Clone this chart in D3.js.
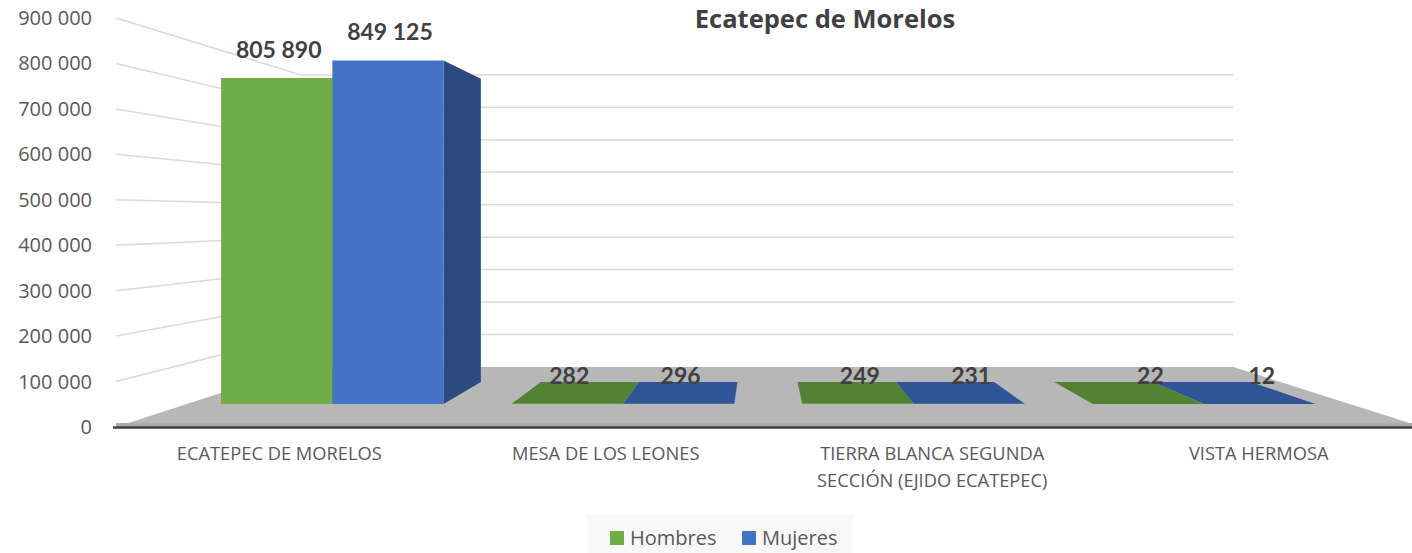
<!DOCTYPE html>
<html>
<head>
<meta charset="utf-8">
<script src="https://cdn.jsdelivr.net/npm/d3@7"></script>
<style>
    body { margin: 0; background: #fff; }
    text { font-family: "Open Sans", sans-serif; }
</style>
</head>
<body>
<div id="chart"></div>
<script>
const categories = ["ECATEPEC DE MORELOS", "MESA DE LOS LEONES", "TIERRA BLANCA SEGUNDA SECCIÓN (EJIDO ECATEPEC)", "VISTA HERMOSA"];
const categoryLines = [["ECATEPEC DE MORELOS"], ["MESA DE LOS LEONES"], ["TIERRA BLANCA SEGUNDA", "SECCIÓN (EJIDO ECATEPEC)"], ["VISTA HERMOSA"]];
const seriesNames = ["Hombres", "Mujeres"];
const hombres = [805890, 282, 249, 22];
const mujeres = [849125, 296, 231, 12];
const yMax = 900000;

const colors = {
    Hombres: { front: "#70ad47", top: "#548235", side: "#507e32" },
    Mujeres: { front: "#4472c4", top: "#2f5597", side: "#2c4a7e" }
};

const locale = d3.formatLocale({ decimal: ",", thousands: " ", grouping: [3], currency: ["", ""] });
const fmt = locale.format(",");

function drawChart() {
    const width = 1412, height = 553;
    const svg = d3.select("#chart")
        .append("svg")
        .attr("width", width)
        .attr("height", height);

    // front plane scales, then a simple perspective toward a vanishing point
    const x = d3.scaleBand()
        .domain(categories)
        .range([116, 1422])
        .paddingInner(0.234)
        .paddingOuter(0.117);

    const xs = d3.scaleBand()
        .domain(seriesNames)
        .range([0, x.bandwidth()]);

    const y = d3.scaleLinear()
        .domain([0, yMax])
        .range([427, 18]);

    const vp = [762, 217];
    const depth = { front: 1, barFront: 0.89, barBack: 0.786, wall: 0.714 };
    const proj = (px, py, s) => [vp[0] + s * (px - vp[0]), vp[1] + s * (py - vp[1])];
    const poly = pts => "M" + pts.map(p => p.join(",")).join("L") + "Z";

    const x0 = x.range()[0], x1 = x.range()[1];
    const ticks = y.ticks(9);

    // floor
    svg.append("path")
        .attr("d", poly([proj(x0, y(0), depth.front), proj(x1, y(0), depth.front),
                         proj(x1, y(0), depth.wall), proj(x0, y(0), depth.wall)]))
        .attr("fill", "#b7b7b7");
    svg.append("rect")
        .attr("x", x0).attr("y", y(0) - 4)
        .attr("width", width - x0).attr("height", 4)
        .attr("fill", "#acacac");

    // gridlines: side wall + back wall
    const grid = svg.append("g")
        .attr("stroke", "#d9d9d9")
        .attr("stroke-width", 1.5)
        .attr("fill", "none");
    ticks.filter(t => t > 0).forEach(t => {
        const a = proj(x0, y(t), depth.front);
        const b = proj(x0, y(t), depth.wall);
        const c = proj(x1, y(t), depth.wall);
        grid.append("path").attr("d", `M${a}L${b}L${c}`);
    });

    // bars
    const bars = [];
    categories.forEach((cat, i) => {
        [hombres[i], mujeres[i]].forEach((v, j) => {
            const name = seriesNames[j];
            const bx0 = x(cat) + xs(name);
            bars.push({ name, v, bx0, bx1: bx0 + xs.bandwidth(), yt: y(v), yb: y(0) });
        });
    });
    bars.sort((a, b) => Math.abs((b.bx0 + b.bx1) / 2 - vp[0]) - Math.abs((a.bx0 + a.bx1) / 2 - vp[0]));

    const gBars = svg.append("g");
    const F = depth.barFront, B = depth.barBack;
    bars.forEach(d => {
        const c = colors[d.name];
        if (d.bx1 < vp[0]) {
            gBars.append("path").attr("fill", c.side)
                .attr("d", poly([proj(d.bx1, d.yt, F), proj(d.bx1, d.yt, B), proj(d.bx1, d.yb, B), proj(d.bx1, d.yb, F)]));
        }
        if (d.bx0 > vp[0]) {
            gBars.append("path").attr("fill", c.side)
                .attr("d", poly([proj(d.bx0, d.yt, F), proj(d.bx0, d.yt, B), proj(d.bx0, d.yb, B), proj(d.bx0, d.yb, F)]));
        }
        if (d.yt > vp[1]) {
            gBars.append("path").attr("fill", c.top)
                .attr("d", poly([proj(d.bx0, d.yt, F), proj(d.bx1, d.yt, F), proj(d.bx1, d.yt, B), proj(d.bx0, d.yt, B)]));
        }
        gBars.append("path").attr("fill", c.front)
            .attr("d", poly([proj(d.bx0, d.yt, F), proj(d.bx1, d.yt, F), proj(d.bx1, d.yb, F), proj(d.bx0, d.yb, F)]));
    });

    // data labels
    svg.append("g")
        .selectAll("text")
        .data(bars)
        .join("text")
        .attr("x", d => proj((d.bx0 + d.bx1) / 2, d.yt, F)[0] + 2)
        .attr("y", d => proj((d.bx0 + d.bx1) / 2, d.yt, F)[1] - 20)
        .attr("text-anchor", "middle")
        .style("font-family", "Lato, sans-serif")
        .style("font-weight", "bold")
        .style("font-size", "23px")
        .style("fill", "#404040")
        .text(d => fmt(d.v));

    // axis line
    svg.append("line")
        .attr("x1", 113).attr("x2", width)
        .attr("y1", y(0) + 0.5).attr("y2", y(0) + 0.5)
        .attr("stroke", "#404040")
        .attr("stroke-width", 2.5);

    // y tick labels
    svg.append("g")
        .selectAll("text")
        .data(ticks)
        .join("text")
        .attr("x", 92)
        .attr("y", d => y(d) + 7)
        .attr("text-anchor", "end")
        .style("font-size", "20px")
        .style("fill", "#595959")
        .text(d => fmt(d));

    // category labels
    const catG = svg.append("g")
        .selectAll("text")
        .data(categories)
        .join("text")
        .attr("x", d => x(d) + x.bandwidth() / 2)
        .attr("y", 460)
        .attr("text-anchor", "middle")
        .style("font-size", "18.3px")
        .style("fill", "#595959");
    catG.selectAll("tspan")
        .data((d, i) => categoryLines[i])
        .join("tspan")
        .attr("x", function() { return d3.select(this.parentNode).attr("x"); })
        .attr("dy", (d, i) => i === 0 ? 0 : 27)
        .text(d => d);

    // title
    svg.append("text")
        .attr("x", 825)
        .attr("y", 28)
        .attr("text-anchor", "middle")
        .style("font-weight", "bold")
        .style("font-size", "25.5px")
        .style("fill", "#404040")
        .text("Ecatepec de Morelos");

    // legend
    svg.append("rect")
        .attr("x", 587).attr("y", 515)
        .attr("width", 266).attr("height", 38)
        .attr("fill", "#f8f8f8");
    const legendX = [610, 742];
    const leg = svg.append("g")
        .selectAll("g")
        .data(seriesNames)
        .join("g")
        .attr("transform", (d, i) => `translate(${legendX[i]}, 531)`);
    leg.append("rect")
        .attr("width", 14).attr("height", 14)
        .attr("fill", d => colors[d].front);
    leg.append("text")
        .attr("x", 20).attr("y", 14)
        .style("font-size", "20px")
        .style("fill", "#595959")
        .text(d => d);
}

document.addEventListener("DOMContentLoaded", function() {
    drawChart();
});
</script>
</body>
</html>
